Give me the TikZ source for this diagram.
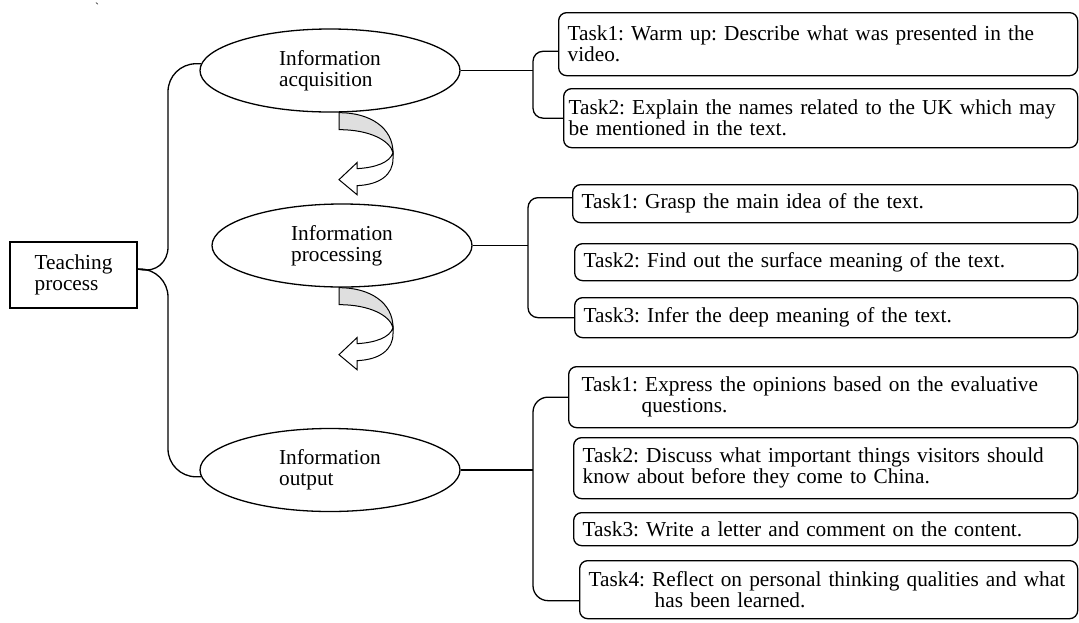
\documentclass[tikz,border=0pt]{standalone}
\usepackage{fontspec}
\setmainfont{Liberation Serif}
\usepackage{tikz}
\usetikzlibrary{shapes.geometric}
\tikzset{
stage/.style={shape=ellipse, draw=black, align=left, inner sep=0pt, minimum width=260pt, minimum height=83pt},
task/.style={shape=rectangle, draw=black, rounded corners=8pt, anchor=north west, align=left, inner xsep=9pt, inner ysep=0pt},
twist/.style={draw=black, line width=1pt}}
\frenchspacing

\begin{document}
\begin{tikzpicture}[x=1pt, y=-1pt, line width=1.3pt, every node/.style={font=\fontsize{21.3}{21}\selectfont}]

                \useasboundingbox (0,0) rectangle (1079,622);

                \node[font=\fontsize{12}{12}\selectfont] (tick) at (97,7) {\textasciigrave};

                \node[shape=rectangle, draw=black, align=left, minimum width=127pt, minimum height=66pt] (teach) at (73.5,275) {Teaching\\process};

                \node[stage] (acq) at (330,70.5) {Information\\acquisition};
                \node[stage] (proc) at (342,245.5) {Information\\processing};
                \node[stage] (outp) at (330,470) {Information\\output};

                \node[task, text width=501pt, minimum height=63pt] (a1) at (558,12) {Task1: Warm up: Describe what was presented in the\\video.};
                \node[task, inner xsep=5pt, text width=504pt, minimum height=59pt] (a2) at (563,88) {Task2: Explain the names related to the UK which may\\be mentioned in the text.};

                \node[task, text width=487pt, minimum height=38pt] (p1) at (572,184) {Task1: Grasp the main idea of the text.};
                \node[task, text width=485pt, minimum height=37pt] (p2) at (574,243) {Task2: Find out the surface meaning of the text.};
                \node[task, text width=485pt, minimum height=40pt] (p3) at (574,297) {Task3: Infer the deep meaning of the text.};

                \node[task, inner xsep=13pt, text width=483pt, minimum height=61pt] (o1) at (568,366) {Task1: Express the opinions based on the evaluative\\\hspace*{60pt}questions.};
                \node[task, text width=486pt, minimum height=61pt] (o2) at (573,437) {Task2: Discuss what important things visitors should\\know about before they come to China.};
                \node[task, text width=486pt, minimum height=33pt] (o3) at (573,512) {Task3: Write a letter and comment on the content.};
                \node[task, text width=480pt, minimum height=58pt] (o4) at (579,560) {Task4: Reflect on personal thinking qualities and what\\\hspace*{66pt}has been learned.};

                \coordinate (lb) at (168,0);
                \coordinate (rb1) at (533,70.5);
                \coordinate (rb2) at (528,245.5);
                \coordinate (rb3) at (533,470);

                \draw[rounded corners=28pt] (acq.177) -| (lb |- teach.east) -- ([yshift=6pt]teach.east);
                \draw[rounded corners=28pt] ([yshift=6pt]teach.east) -| (lb |- outp.183) -- (outp.183);

                \draw (acq.east) -- (rb1);
                \draw (proc.east) -- (rb2);
                \draw (outp.east) -- (rb3);

                \draw[rounded corners=10pt] ([yshift=25pt]a1.south west) -| (rb1) |- (a2.west);
                \draw[rounded corners=10pt] ([yshift=6pt]p1.west) -| (rb2) |- (p3.west);
                \draw[rounded corners=15pt] (o1.west) -| (rb3) |- ([yshift=-11pt]o4.west);

                \foreach \s in {acq,proc} {
                  \begin{scope}[shift={(\s.south -| acq.south)}]
                    \filldraw[twist, fill=gray!25] (9,0) .. controls (40,0) and (63,15) .. (63,40) .. controls (60,28) and (40,17) .. (9,17) -- cycle;
                    \filldraw[twist, fill=white] (63,40) .. controls (60,50) and (45,55) .. (27,56) -- (27,50) -- (9,67) -- (27,82) -- (27,73) .. controls (50,72) and (63,62) .. (63,46) -- cycle;
                  \end{scope}
                }

            \end{tikzpicture}
\end{document}
